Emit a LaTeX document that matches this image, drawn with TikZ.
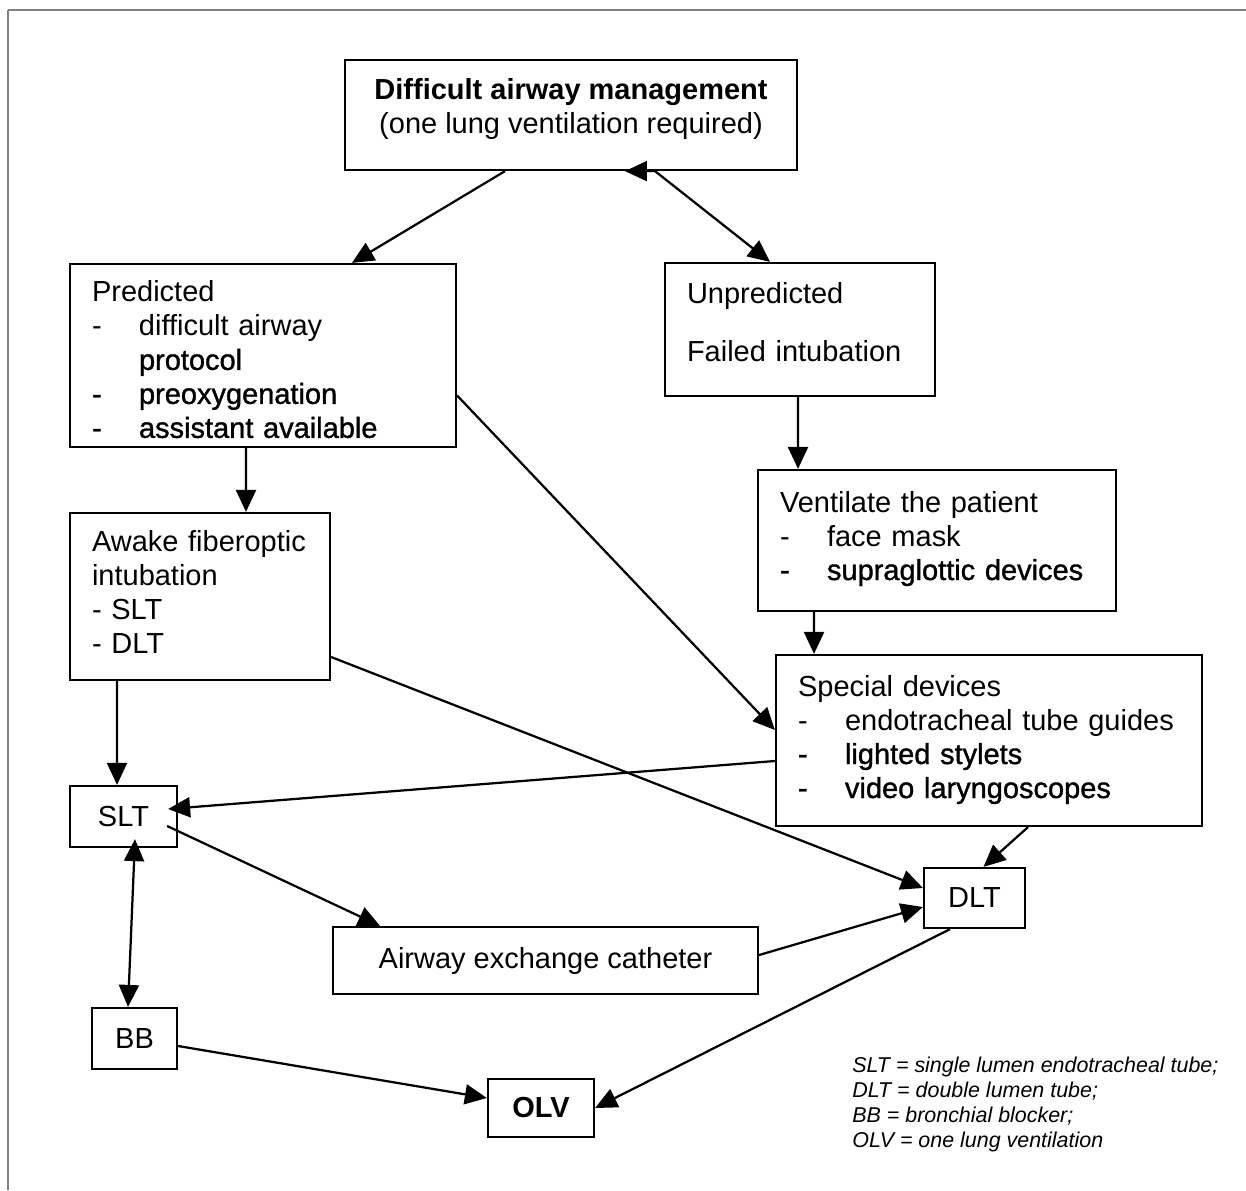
\documentclass[tikz,border=0pt]{standalone}
\usepackage{fontspec}
\setmainfont{Liberation Sans}
\newfontfamily\heavyfont[FakeBold=1.2]{Liberation Sans}
\usetikzlibrary{arrows.meta}

\newcommand\flowtextstyle{\fontsize{16.5pt}{19.35pt}\selectfont}
\newcommand\legendtextstyle{\fontsize{12.2pt}{14.2pt}\selectfont\itshape}
\newcommand\flowindent{0.94cm}
\newcommand\flowitem[1]{\makebox[\flowindent][l]{-}#1}
\newcommand\flowheavy[1]{{\heavyfont\flowitem{#1}}}
\newcommand\flowlift[1]{\rule[-#1]{0pt}{1pt}}

\tikzset{
  flowbox/.style={draw, line width=0.045cm, rectangle, inner xsep=0.44cm,
    inner ysep=0.1cm, align=left, font=\flowtextstyle},
  flowcbox/.style={draw, line width=0.045cm, rectangle, inner sep=0.1cm,
    align=center, font=\flowtextstyle},
  flowline/.style={line width=0.045cm},
  flowarrow/.style={flowline, -{Triangle[length=0.44cm,width=0.4cm]}},
  flowboth/.style={flowline,
    {Triangle[length=0.44cm,width=0.4cm]}-{Triangle[length=0.44cm,width=0.4cm]}},
}

\begin{document}
\begin{tikzpicture}[x=0.02cm, y=-0.02cm]
    \useasboundingbox (0,0) rectangle (1246,1190);
    \draw[gray, line width=0.05cm] (8,10) -- (1246,10);
    \draw[gray, line width=0.035cm] (8,10) -- (8,1190);

    \node[flowcbox, minimum width=9.04cm, minimum height=2.2cm] (top) at (571,115)
      {\textbf{Difficult airway management}\\(one lung ventilation required)\flowlift{0.38cm}};
    \node[flowbox, text width=6.84cm, minimum height=3.66cm] (pred) at (263,355.5)
      {\rule{0pt}{0.58cm}Predicted\\\flowitem{difficult airway}\\{\heavyfont\hspace*{\flowindent}protocol}\\
       \flowheavy{preoxygenation}\\\flowheavy{assistant available}};
    \node[flowbox, text width=4.52cm, minimum height=2.66cm] (unpred) at (800,329.5)
      {Unpredicted\\[0.48cm]Failed intubation\flowlift{0.32cm}};
    \node[flowbox, text width=6.28cm, minimum height=2.82cm] (vent) at (937,540.5)
      {Ventilate the patient\\\flowitem{face mask}\\\flowheavy{supraglottic devices}\flowlift{0.2cm}};
    \node[flowbox, text width=4.32cm, minimum height=3.34cm] (awake) at (200,596.5)
      {Awake fiberoptic\\intubation\\- SLT\\- DLT\flowlift{0.2cm}};
    \node[flowbox, text width=7.64cm, minimum height=3.42cm] (special) at (989,740.5)
      {Special devices\\\flowitem{endotracheal tube guides}\\\flowheavy{lighted stylets}\\
       \flowheavy{video laryngoscopes}\flowlift{0.16cm}};
    \node[flowcbox, minimum width=2.14cm, minimum height=1.22cm] (slt) at (123.5,816.5) {SLT};
    \node[flowcbox, minimum width=2.02cm, minimum height=1.2cm] (dlt) at (974.5,898) {DLT};
    \node[flowcbox, minimum width=8.5cm, minimum height=1.34cm] (aec) at (545.5,960.5)
      {Airway exchange catheter};
    \node[flowcbox, minimum width=1.7cm, minimum height=1.22cm] (bb) at (134.5,1038.5) {BB};
    \node[flowcbox, minimum width=2.12cm, minimum height=1.16cm] (olv) at (541,1108)
      {\textbf{OLV}};
    \node[anchor=north west, inner sep=0, align=left, font=\legendtextstyle] (legend) at (852,1057)
      {SLT = single lumen endotracheal tube;\\DLT = double lumen tube;\\
       BB = bronchial blocker;\\OLV = one lung ventilation};

    \draw[flowarrow] ([xshift=-1.32cm]top.south) -- ([xshift=1.78cm]pred.north);
    \draw[flowboth] ([xshift=1.08cm]top.south) -- ([xshift=1.68cm]top.south)
       -- ([xshift=-0.6cm]unpred.north);
    \draw[flowarrow] ([xshift=-0.34cm]pred.south) -- ([xshift=0.92cm]awake.north);
    \draw[flowarrow] ([yshift=-0.8cm]pred.east) -- ([yshift=0.21cm]special.west);
    \draw[flowarrow] ([xshift=-0.04cm]unpred.south) -- ([xshift=-2.78cm]vent.north);
    \draw[flowarrow] ([xshift=-2.46cm]vent.south) -- ([xshift=-3.5cm]special.north);
    \draw[flowarrow] ([xshift=-1.66cm]awake.south) -- ([xshift=-0.13cm]slt.north);
    \draw[flowarrow] ([yshift=-1.21cm]awake.east) -- ([yshift=0.2cm]dlt.west);
    \draw[flowarrow] ([yshift=-0.41cm]special.west) -- ([xshift=-0.2cm,yshift=0.15cm]slt.east);
    \draw[flowarrow] ([xshift=-0.22cm,yshift=-0.19cm]slt.east) -- ([xshift=-3.31cm]aec.north);
    \draw[flowboth] ([xshift=0.23cm,yshift=0.18cm]slt.south) -- ([xshift=-0.13cm]bb.north);
    \draw[flowarrow] ([xshift=0.78cm]special.south) -- ([xshift=0.18cm]dlt.north);
    \draw[flowarrow] ([yshift=0.11cm]aec.east) -- ([yshift=-0.18cm]dlt.west);
    \draw[flowarrow] ([xshift=-0.49cm]dlt.south) -- (olv.east);
    \draw[flowarrow] ([yshift=-0.15cm]bb.east) -- ([yshift=0.2cm]olv.west);
\end{tikzpicture}
\end{document}
